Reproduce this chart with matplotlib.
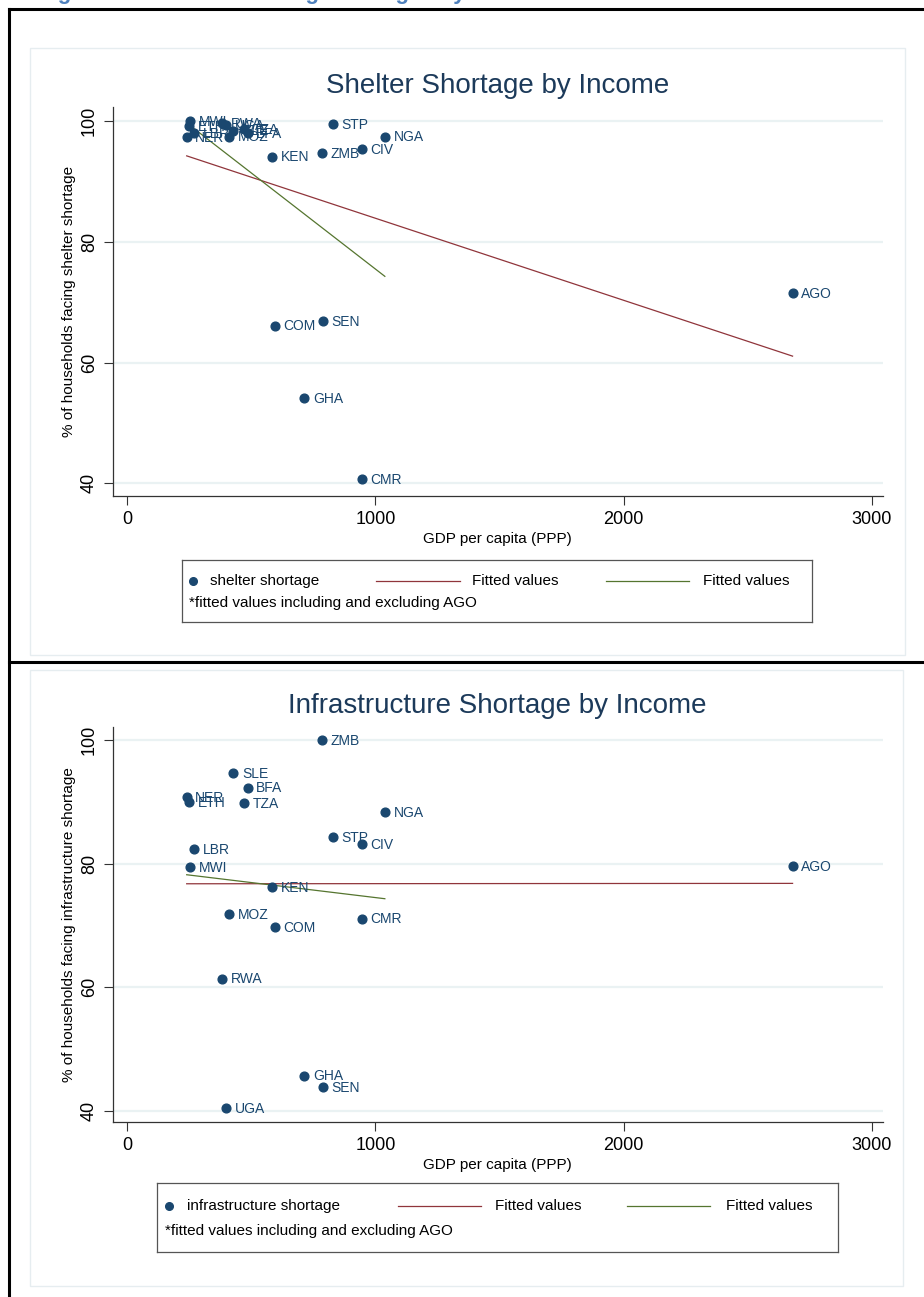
import numpy as np
import matplotlib
matplotlib.use("Agg")
import matplotlib.pyplot as plt
from matplotlib.lines import Line2D
from matplotlib.patches import Rectangle

plt.rcParams["font.family"] = ["Liberation Sans", "DejaVu Sans"]

# ---- data -------------------------------------------------------------
countries = ["MWI", "ETH", "NER", "LBR", "RWA", "UGA", "MOZ", "SLE", "TZA", "BFA",
             "KEN", "COM", "GHA", "ZMB", "SEN", "STP", "CIV", "CMR", "NGA", "AGO"]
gdp_pc = [254, 250, 240, 270, 383, 400, 410, 428, 472, 485,
          583, 596, 713, 785, 787, 828, 944, 946, 1038, 2680]
shelter_pct = [100.0, 99.1, 97.3, 98.0, 99.6, 99.3, 97.4, 98.4, 98.6, 98.0,
               94.1, 66.1, 54.1, 94.7, 66.9, 99.5, 95.4, 40.7, 97.4, 71.5]
infra_pct = [79.4, 89.9, 90.8, 82.4, 61.4, 40.5, 71.9, 94.7, 89.8, 92.3,
             76.2, 69.7, 45.7, 100.0, 43.9, 84.3, 83.1, 71.1, 88.3, 79.6]
excluded = "AGO"
x_ticks = [0, 1000, 2000, 3000]
y_ticks = [40, 60, 80, 100]

NAVY = "#1a476f"
MAROON = "#90353b"
OLIVE = "#55752f"
GRID = "#eaf2f3"
TITLE = "#1c3a5a"

W, H = 924, 1297
fig = plt.figure(figsize=(W / 100, H / 100), dpi=100)


def fx(px):
    return px / W


def fy(py):
    return 1 - py / H


def rect(l, t, r, b):
    return [fx(l), fy(b), fx(r) - fx(l), fy(t) - fy(b)]


# page heading (only its lowest part falls inside the page)
fig.text(fx(38), fy(-1), "Figure 11: Shelter Housing Shortages by National Income",
         color="#4f81bd", fontsize=16, fontweight="bold", ha="left", va="baseline")

# outer frame lines
for (x0, y0, x1, y1) in [(9, 9, 924, 9), (9, 9, 9, 1297), (9, 662, 924, 662)]:
    fig.add_artist(Line2D([fx(x0), fx(x1)], [fy(y0), fy(y1)], color="black",
                          lw=2.2, transform=fig.transFigure))

# faint graph-region outlines
for (l, t, r, b) in [(30, 48, 905, 655), (30, 670, 903, 1286)]:
    fig.add_artist(Rectangle((fx(l), fy(b)), fx(r) - fx(l), fy(t) - fy(b),
                             transform=fig.transFigure, fill=False,
                             edgecolor="#e6edf0", lw=1.0))

x_arr = np.array(gdp_pc, dtype=float)
keep = np.array([c != excluded for c in countries])


def fit_line(x, y):
    b, a = np.polyfit(x, y, 1)
    xs = np.array([x.min(), x.max()])
    return xs, a + b * xs


def panel(ax_rect, yvals, title, ylabel, ylim, legend_rect, legend_label, legend_cols):
    ax = fig.add_axes(ax_rect)
    y_arr = np.array(yvals, dtype=float)
    ax.set_xlim(-58, 3043)
    ax.set_ylim(*ylim)
    for v in y_ticks:
        ax.axhline(v, color=GRID, lw=1.6, zorder=0)

    xs, ys = fit_line(x_arr, y_arr)
    ax.plot(xs, ys, color=MAROON, lw=0.9, zorder=2)
    xs2, ys2 = fit_line(x_arr[keep], y_arr[keep])
    ax.plot(xs2, ys2, color=OLIVE, lw=0.9, zorder=2)

    ax.plot(x_arr, y_arr, "o", color=NAVY, ms=6.3, mec=NAVY, zorder=3)
    for c, xv, yv in zip(countries, gdp_pc, yvals):
        ax.annotate(c, (xv, yv), xytext=(6.2, -0.6), textcoords="offset points",
                    ha="left", va="center", fontsize=10, color=NAVY, zorder=4)

    for side in ("top", "right"):
        ax.spines[side].set_visible(False)
    for side in ("left", "bottom"):
        ax.spines[side].set_color("#333333")
        ax.spines[side].set_linewidth(0.9)
    ax.set_xticks(x_ticks)
    ax.set_yticks(y_ticks)
    ax.tick_params(axis="both", length=6.5, width=0.8, color="#333333",
                   labelsize=13, pad=4)
    plt.setp(ax.get_yticklabels(), rotation=90, va="center")
    ax.set_xlabel("GDP per capita (PPP)", fontsize=11, labelpad=3)
    ax.set_ylabel(ylabel, fontsize=11, labelpad=4)
    ax.set_title(title, fontsize=20, color=TITLE, pad=10)

    # legend box
    lg = fig.add_axes(legend_rect)
    lg.set_xlim(0, 1)
    lg.set_ylim(0, 1)
    lg.set_xticks([])
    lg.set_yticks([])
    for s in lg.spines.values():
        s.set_color("#555555")
        s.set_linewidth(0.9)
    (m_x, t1_x, r0, r1, t2_x, g0, g1, t3_x) = legend_cols
    row1, row2 = 0.66, 0.30
    lg.plot([m_x], [row1], "o", color=NAVY, ms=5.5)
    lg.text(t1_x, row1, legend_label, fontsize=11, va="center", ha="left")
    lg.plot([r0, r1], [row1, row1], color=MAROON, lw=0.9)
    lg.text(t2_x, row1, "Fitted values", fontsize=11, va="center", ha="left")
    lg.plot([g0, g1], [row1, row1], color=OLIVE, lw=0.9)
    lg.text(t3_x, row1, "Fitted values", fontsize=11, va="center", ha="left")
    lg.text(m_x - 0.006, row2, "*fitted values including and excluding AGO",
            fontsize=11, va="center", ha="left")
    return ax


def legend_fracs(l, r, pos):
    return tuple((p - l) / (r - l) for p in pos)


top_leg = (182, 560, 812, 622)
panel(rect(112.7, 107, 882.7, 496), shelter_pct, "Shelter Shortage by Income",
      "% of households facing shelter shortage", (37.9, 102.3),
      rect(*top_leg), "shelter shortage",
      legend_fracs(182, 812, [193, 210, 376, 460, 472, 606, 689, 703]))

bot_leg = (157, 1183, 838, 1252)
panel(rect(112.7, 727, 882.7, 1122), infra_pct, "Infrastructure Shortage by Income",
      "% of households facing infrastructure shortage", (38.2, 102.1),
      rect(*bot_leg), "infrastructure shortage",
      legend_fracs(157, 838, [169, 187, 398, 481, 495, 627, 710, 726]))

fig.savefig("out.png", dpi=100, facecolor="white")
